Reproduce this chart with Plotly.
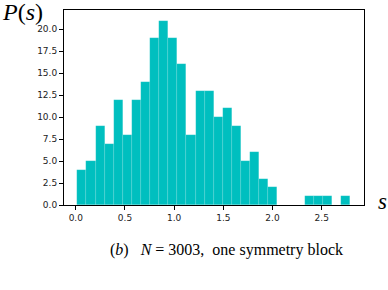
import numpy as np
import plotly.graph_objects as go

# Histogram of level spacings (30 bins)
bin_start = 0.016
bin_width = 0.0924
counts = [4, 5, 9, 7, 12, 8, 12, 14, 19, 21, 19, 16, 8, 13, 13,
          10, 11, 9, 5, 6, 3, 2, 0, 0, 0, 1, 1, 1, 0, 1]
x_ticks = [0.0, 0.5, 1.0, 1.5, 2.0, 2.5]
y_ticks = [0.0, 2.5, 5.0, 7.5, 10.0, 12.5, 15.0, 17.5, 20.0]

centers = [bin_start + bin_width * (i + 0.5) for i in range(len(counts))]

fig = go.Figure()
fig.add_trace(go.Bar(
    x=centers, y=counts, width=[bin_width] * len(counts),
    marker=dict(color="#00bfbf", line=dict(color="rgba(255,255,255,0.2)", width=0.5)),
    showlegend=False,
))

axis_common = dict(
    showline=True, linecolor="black", linewidth=1, mirror=True,
    ticks="outside", ticklen=4, tickwidth=1, tickcolor="black",
    showgrid=False, zeroline=False,
    tickfont=dict(family="DejaVu Sans", size=9, color="#222"),
)

fig.update_layout(
    width=388, height=290,
    margin=dict(l=64, r=24, t=10, b=85),
    plot_bgcolor="white", paper_bgcolor="white",
    bargap=0,
    xaxis=dict(range=[-0.12, 2.93], tickvals=x_ticks,
               ticktext=[f"{v:.1f}" for v in x_ticks], **axis_common),
    yaxis=dict(range=[0, 22.2], tickvals=y_ticks,
               ticktext=[f"{v:.1f}" for v in y_ticks], **axis_common),
    annotations=[
        dict(text="<i>P</i>(<i>s</i>)", xref="paper", yref="paper",
             x=-0.137, y=0.99, xanchor="center", yanchor="middle", showarrow=False,
             font=dict(family="Liberation Serif", size=24, color="black")),
        dict(text="<i>s</i>", xref="paper", yref="paper",
             x=1.063, y=0.02, xanchor="center", yanchor="middle", showarrow=False,
             font=dict(family="Liberation Serif", size=23, color="black")),
        dict(text="(<i>b</i>)&nbsp;&nbsp;&nbsp;<i>N</i>&nbsp;=&nbsp;3003,&nbsp;&nbsp;one symmetry block",
             xref="paper", yref="paper",
             x=0.54, y=-0.232, xanchor="center", yanchor="middle", showarrow=False,
             font=dict(family="Liberation Serif", size=16, color="black")),
    ],
)

fig.write_html("out.html", config={"displayModeBar": False},
               post_script="document.body.style.margin='0';")
